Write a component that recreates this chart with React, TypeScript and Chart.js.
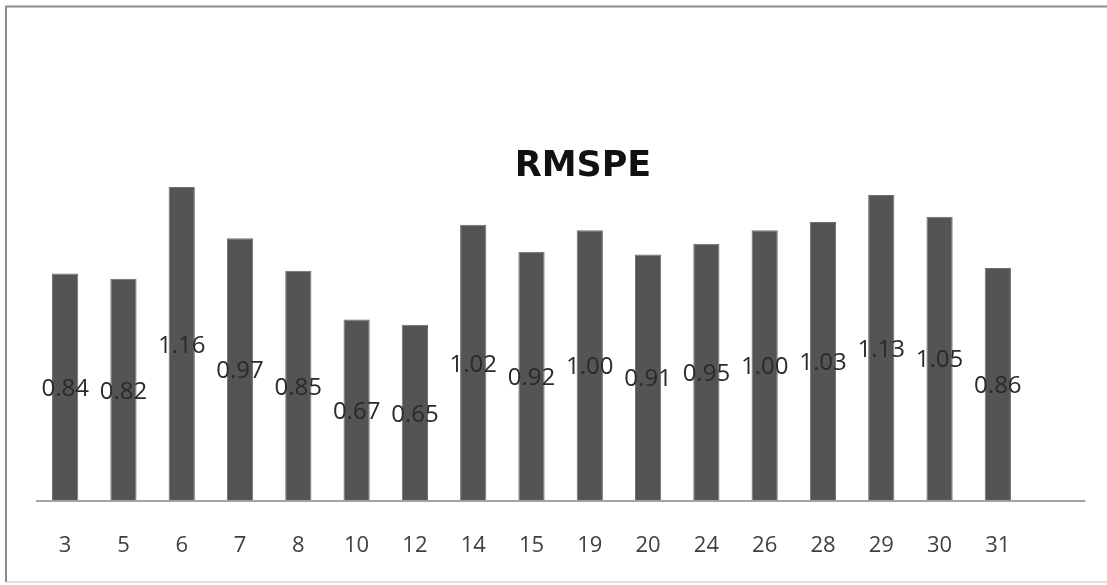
import React, { useEffect, useRef } from "react";
import { Chart, registerables } from "chart.js";

Chart.register(...registerables);

const categories = ["3", "5", "6", "7", "8", "10", "12", "14", "15", "19", "20", "24", "26", "28", "29", "30", "31"];
const rmspeValues = [0.84, 0.82, 1.16, 0.97, 0.85, 0.67, 0.65, 1.02, 0.92, 1.0, 0.91, 0.95, 1.0, 1.03, 1.13, 1.05, 0.86];
const chartTitle = "RMSPE";

const W = 1107;
const H = 585;

// Frame, extended baseline, in-bar value labels and the centred title
const decorations = {
  id: "decorations",
  beforeDraw(chart: any) {
    const { ctx } = chart;
    ctx.save();
    ctx.fillStyle = "#ffffff";
    ctx.fillRect(0, 0, W, H);
    ctx.strokeStyle = "#8c8c8c";
    ctx.lineWidth = 2;
    ctx.beginPath();
    ctx.moveTo(W + 2, 6.5);
    ctx.lineTo(6, 6.5);
    ctx.lineTo(6, 582);
    ctx.stroke();
    ctx.strokeStyle = "#d4d4d4";
    ctx.lineWidth = 1.5;
    ctx.beginPath();
    ctx.moveTo(7, 582);
    ctx.lineTo(W + 2, 582);
    ctx.stroke();
    ctx.restore();
  },
  afterDatasetsDraw(chart: any) {
    const { ctx, chartArea } = chart;
    const xScale = chart.scales.x;
    const step = (chartArea.right - chartArea.left) / categories.length;
    ctx.save();
    ctx.strokeStyle = "#858585";
    ctx.lineWidth = 1.5;
    ctx.beginPath();
    ctx.moveTo(xScale.left, chartArea.bottom + 0.5);
    ctx.lineTo(chartArea.right + step, chartArea.bottom + 0.5);
    ctx.stroke();

    const meta = chart.getDatasetMeta(0);
    ctx.font = "24px 'Open Sans'";
    ctx.fillStyle = "#2a2a2a";
    ctx.textAlign = "center";
    ctx.textBaseline = "middle";
    meta.data.forEach((bar: any, i: number) => {
      const mid = (bar.y + bar.base) / 2;
      ctx.fillText(rmspeValues[i].toFixed(2), bar.x, mid + 2);
    });

    ctx.font = "bold 35px 'DejaVu Sans'";
    ctx.fillStyle = "#111111";
    ctx.fillText(chartTitle, 583, 167);
    ctx.restore();
  },
};

export default function App() {
  const canvasRef = useRef<HTMLCanvasElement | null>(null);

  useEffect(() => {
    if (!canvasRef.current) return;
    const chart = new Chart(canvasRef.current, {
      type: "bar",
      data: {
        labels: categories,
        datasets: [
          {
            data: rmspeValues,
            backgroundColor: "#545454",
            borderColor: "#6e6e6e",
            borderWidth: 1,
            categoryPercentage: 0.9,
            barPercentage: 0.5,
          },
        ],
      },
      options: {
        responsive: false,
        animation: false,
        layout: { padding: { left: 36, right: 80, top: 95, bottom: -6 } },
        plugins: {
          legend: { display: false },
          title: { display: false },
          tooltip: { enabled: false },
        },
        scales: {
          x: {
            grid: { display: false, drawTicks: false },
            border: { display: false },
            ticks: {
              color: "#404040",
              padding: 32,
              font: { family: "'Open Sans'", size: 22 },
            },
          },
          y: {
            display: false,
            min: 0,
            max: 1.5,
          },
        },
      },
      plugins: [decorations],
    });
    return () => chart.destroy();
  }, []);

  return (
    <div style={{ position: "fixed", left: 0, top: 0, width: W, height: H, background: "#fff" }}>
      <canvas ref={canvasRef} width={W} height={H} style={{ display: "block" }} />
    </div>
  );
}
